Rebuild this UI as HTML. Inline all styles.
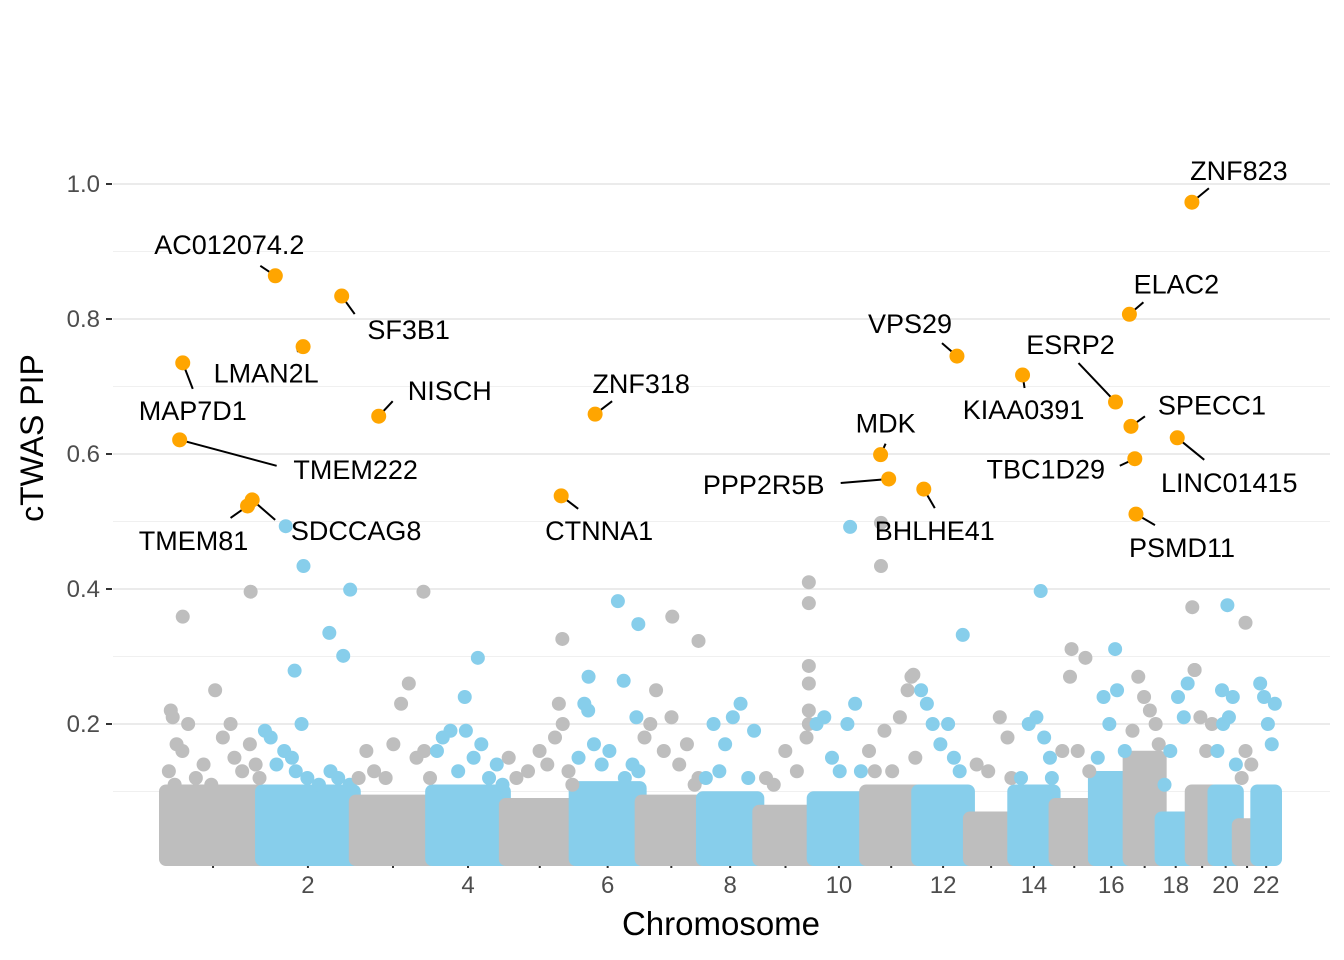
<!DOCTYPE html>
<html><head><meta charset="utf-8"><style>
html,body{margin:0;padding:0;background:#fff;}
svg{display:block;font-family:"Liberation Sans",Arial,sans-serif;}
</style></head><body>
<svg id="chart" width="1344" height="960" viewBox="0 0 1344 960"></svg>
<script>
// ---- data ----
const chrLengths = [249,243,198,191,181,171,159,146,141,136,135,134,115,107,102,90,83,78,59,63,48,51];
const yTicks = [0.2,0.4,0.6,0.8,1.0];
const yTickLabels = ["0.2","0.4","0.6","0.8","1.0"];
const xTickLabels = ["","2","","4","","6","","8","","10","","12","","14","","16","","18","","20","","22"];
// dense background band height per chromosome (pip)
const bandHeight = [0.10,0.10,0.085,0.10,0.08,0.105,0.085,0.09,0.07,0.09,0.10,0.10,0.06,0.10,0.08,0.12,0.15,0.06,0.10,0.10,0.05,0.10];
// highlighted genes
const hlGene = ["ZNF823","AC012074.2","SF3B1","LMAN2L","MAP7D1","NISCH","TMEM222","TMEM81","SDCCAG8","ZNF318","CTNNA1","VPS29","MDK","PPP2R5B","BHLHE41","KIAA0391","ELAC2","ESRP2","SPECC1","LINC01415","TBC1D29","PSMD11"];
const hlChr  = [19,2,2,2,1,3,1,1,1,6,5,12,11,11,12,14,17,16,17,18,17,17];
const hlPos  = [3,37,209,109,46,62,38,214,226,53,146,103,40,61,17,24,2,56,6,43,16,19];
const hlPip  = [0.973,0.864,0.834,0.759,0.735,0.656,0.621,0.523,0.532,0.659,0.538,0.745,0.599,0.563,0.548,0.717,0.807,0.677,0.641,0.624,0.593,0.511];
// notable non-highlighted genes
const topChr = [2,2,1,1,2,2,2,2,3,4,4,5,6,6,6,6,7,7,9,9,9,10,11,11,12,14,16,15,15,19,20,21,19,11,20];
const topPos = [64,110,222,46,231,177,213,87,178,121,87,149,112,165,127,36,82,150,131,131,131,97,41,41,118,71,55,44,80,4,36,20,10,125,22];
const topPip = [0.493,0.434,0.396,0.359,0.399,0.335,0.301,0.279,0.396,0.298,0.24,0.326,0.382,0.348,0.264,0.27,0.359,0.323,0.41,0.379,0.286,0.492,0.498,0.434,0.332,0.397,0.311,0.311,0.298,0.373,0.376,0.35,0.28,0.273,0.25];
// mid-level genes, per chromosome
const midPos = [
 [10,15,20,30,45,60,80,100,130,150,170,180,200,220,235,245,25,120],
 [10,25,40,60,90,105,120,150,180,200,230,80],
 [10,30,50,80,100,120,140,160,180,195],
 [15,30,50,70,90,110,130,150,170,185],
 [10,30,60,90,110,130,140,150,165,175],
 [10,25,35,50,70,90,130,150,160,165],
 [10,25,40,60,80,100,120,140,150],
 [10,30,45,60,80,100,120,135],
 [20,40,70,100,125,131,131,131],
 [10,30,50,70,90,110,125],
 [10,25,50,70,90,110,120,130],
 [10,25,40,60,80,95,110],
 [20,50,80,100,110],
 [20,40,60,80,95,100],
 [20,40,60,90],
 [10,25,40,60,80],
 [10,25,40,55,70,78],
 [10,25,45,60,70],
 [10,25,40,55],
 [10,25,40,50,58],
 [10,20,35],
 [10,20,30,40,48]];
const midPip = [
 [.13,.22,.21,.17,.16,.2,.12,.14,.25,.18,.2,.15,.13,.17,.14,.12,.11,.11],
 [.19,.18,.14,.16,.13,.2,.12,.11,.13,.12,.11,.15],
 [.12,.16,.13,.12,.17,.23,.26,.15,.16,.12],
 [.16,.18,.19,.13,.19,.15,.17,.12,.14,.11],
 [.15,.12,.13,.16,.14,.18,.23,.2,.13,.11],
 [.15,.23,.22,.17,.14,.16,.12,.14,.21,.13],
 [.18,.2,.25,.16,.21,.14,.17,.11,.12],
 [.12,.2,.13,.17,.21,.23,.12,.19],
 [.12,.11,.16,.13,.18,.22,.26,.2],
 [.2,.21,.15,.13,.2,.23,.13],
 [.16,.13,.19,.13,.21,.25,.27,.15],
 [.25,.23,.2,.17,.2,.15,.13],
 [.14,.13,.21,.18,.12],
 [.12,.2,.21,.18,.15,.12],
 [.16,.27,.16,.13],
 [.15,.24,.2,.25,.16],
 [.19,.27,.24,.22,.2,.17],
 [.11,.16,.24,.21,.26],
 [.28,.21,.16,.2],
 [.16,.2,.21,.24,.14],
 [.12,.16,.14],
 [.26,.24,.2,.17,.23]];
// ---- layout (label offsets in px relative to point) ----
const labTx = [47,-46,67,-37,10,71,176,-54,104,46,38,-47,5,-125,11,1,47,-45,81,52,-89,46];
const labTy = [-32,-32,33,26,47,-26,29,34,30,-31,34,-33,-32,5,41,34,-31,-58,-22,44,10,33];
const labLx = [17,-15,13,-6,10,14,97,-17,23,17,17,-15,5,-48,11,2,14,-37,14,27,-15,19];
const labLy = [-14,-10,18,5,26,-15,26,12,20,-13,13,-13,-11,4,19,13,-12,-39,-10,22,7,11];

const NS='http://www.w3.org/2000/svg';
const svg=document.getElementById('chart');
function el(tag,attrs,parent){const e=document.createElementNS(NS,tag);for(const k in attrs)e.setAttribute(k,attrs[k]);(parent||svg).appendChild(e);return e;}
const starts=[];let acc=0;chrLengths.forEach(l=>{starts.push(acc);acc+=l;});
const total=acc;
const X0=165,X1=1276;
function xs(chr,pos){return X0+(starts[chr-1]+pos)/total*(X1-X0);}
function ys(p){return 859-p*675;}
const GREY='#bebebe',BLUE='#87ceeb',ORANGE='#ffa500';
function chrColor(c){return c%2===1?GREY:BLUE;}

const grid=el('g',{});


[0.1,0.3,0.5,0.7,0.9].forEach(v=>el('line',{x1:113,x2:1330,y1:ys(v),y2:ys(v),stroke:'#f0f0f0','stroke-width':1},grid));
yTicks.forEach(v=>el('line',{x1:113,x2:1330,y1:ys(v),y2:ys(v),stroke:'#ebebeb','stroke-width':2},grid));

const yax=el('g',{});


yTicks.forEach((v,i)=>{
  el('line',{x1:106,x2:112,y1:ys(v),y2:ys(v),stroke:'#333','stroke-width':2},yax);
  const t=el('text',{x:100,y:ys(v)+8,'text-anchor':'end','font-size':24,fill:'#4d4d4d'},yax);
  t.textContent=yTickLabels[i];
  
  
});
const xax=el('g',{});


chrLengths.forEach((l,i)=>{
  const cx=xs(i+1,l/2);
  el('line',{x1:cx,x2:cx,y1:862,y2:868,stroke:'#333','stroke-width':2},xax);
  if(xTickLabels[i]){const t=el('text',{x:cx,y:893,'text-anchor':'middle','font-size':24,fill:'#4d4d4d'},xax);t.textContent=xTickLabels[i];
  
  }
});
const xt=el('text',{x:721,y:935,'text-anchor':'middle','font-size':33,fill:'#000'});
xt.textContent='Chromosome';


const yt=el('text',{x:0,y:0,'text-anchor':'middle','font-size':32,fill:'#000',transform:'translate(43,438) rotate(-90)'});
yt.textContent='cTWAS PIP';



const bands=el('g',{});


chrLengths.forEach((l,i)=>{
  const xa=xs(i+1,0)-6,xb=xs(i+1,l)+6,top=ys(bandHeight[i])-7;
  const r=el('rect',{x:xa,y:top,width:xb-xa,height:859+7-top,rx:7,fill:chrColor(i+1)},bands);
  
  
});
const pts=el('g',{});


midPos.forEach((arr,ci)=>{
  arr.forEach((pos,j)=>{
    const p=el('circle',{cx:xs(ci+1,pos),cy:ys(midPip[ci][j]),r:7,fill:chrColor(ci+1)},pts);
    
    
  });
});
topChr.forEach((c,i)=>{
  const p=el('circle',{cx:xs(c,topPos[i]),cy:ys(topPip[i]),r:7,fill:chrColor(c)},pts);
  
  
});
const hl=el('g',{});


hlGene.forEach((g,i)=>{
  const px=xs(hlChr[i],hlPos[i]),py=ys(hlPip[i]);
  const ln=el('line',{x1:px,y1:py,x2:px+labLx[i],y2:py+labLy[i],stroke:'#000','stroke-width':2},hl);
  
  
  const c=el('circle',{cx:px,cy:py,r:7.5,fill:ORANGE},hl);
  
  
  const t=el('text',{x:px+labTx[i],y:py+labTy[i]+10,'text-anchor':'middle','font-size':27,fill:'#000'},hl);
  t.textContent=g;
  
  
});
</script>
</body></html>
